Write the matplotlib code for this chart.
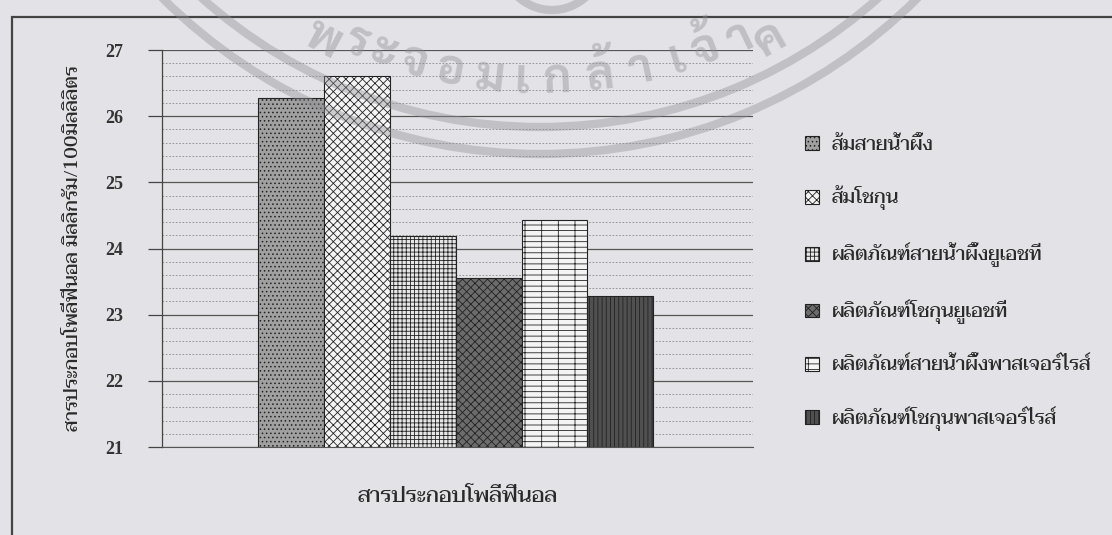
import matplotlib
matplotlib.use("Agg")
import matplotlib.pyplot as plt
from matplotlib.patches import Rectangle, Arc
from matplotlib.ticker import MultipleLocator
import numpy as np

plt.rcParams['hatch.linewidth'] = 0.6

# ---- data ----
series_labels = [
    "ส้มสายน้ำผึ้ง",
    "ส้มโชกุน",
    "ผลิตภัณฑ์สายน้ำผึ้งยูเอชที",
    "ผลิตภัณฑ์โชกุนยูเอชที",
    "ผลิตภัณฑ์สายน้ำผึ้งพาสเจอร์ไรส์",
    "ผลิตภัณฑ์โชกุนพาสเจอร์ไรส์",
]
values = [26.27, 26.61, 24.19, 23.56, 24.43, 23.28]
category = "สารประกอบโพลีฟีนอล"
y_label = "สารประกอบโพลีฟีนอล มิลลิกรัม/100มิลลิลิตร"
y_ticks = [21, 22, 23, 24, 25, 26, 27]

# watermark (scan artefact) text clusters
wm_clusters = ["พ", "ร", "ะ", "จ", "อ", "ม", "เ", "ก", "ล้", "า", "เ", "จ้", "า", "ค"]

# ---- styles ----
facecolors = ["#a0a0a0", "#f4f4f4", "#e6e6e6", "#6c6c6c", "#f4f4f4", "#505050"]
hatches = ["....", "xxxx", "++++", "xxxx", "---|", "||||"]

THAI = ["Taviraj", "DejaVu Sans"]
SERIF = ["Liberation Serif", "DejaVu Serif"]
bg = "#e3e3e7"
txt = "#2a2a2a"

W, H = 1112, 535
fig = plt.figure(figsize=(W / 100, H / 100), dpi=100, facecolor=bg)

# outer frame
fig.patches.append(Rectangle((12 / W, -0.05), 1.2, 1 - 17 / H + 0.05,
                             transform=fig.transFigure, fill=False,
                             edgecolor="#444444", linewidth=1.6))

left, right, top, bottom = 162, 753, 50, 447
ax = fig.add_axes([left / W, 1 - bottom / H, (right - left) / W, (bottom - top) / H])
ax.set_facecolor(bg)

n = len(values)
bw = 0.1114
xs = (np.arange(n) - (n - 1) / 2) * bw - 0.003
bars = ax.bar(xs, [v - y_ticks[0] for v in values], width=bw, bottom=y_ticks[0],
              color=facecolors, edgecolor="#222222", linewidth=0.8, zorder=3)
for b, h, lab in zip(bars, hatches, series_labels):
    b.set_hatch(h)
    b.set_label(lab)

ax.set_xlim(-0.5, 0.5)
ax.set_ylim(y_ticks[0], y_ticks[-1])
ax.yaxis.set_major_locator(MultipleLocator(1))
ax.yaxis.set_minor_locator(MultipleLocator(0.2))
ax.grid(which="major", axis="y", color="#555555", linewidth=0.9, zorder=0)
ax.grid(which="minor", axis="y", color="#8a8a8a", linewidth=0.6,
        linestyle=(0, (2, 2)), zorder=0)
ax.set_axisbelow(True)
ax.set_xticks([])
ax.tick_params(axis="y", which="major", length=10, width=0.9, color="#444444", pad=18)
ax.tick_params(axis="y", which="minor", length=0)
for lab in ax.get_yticklabels():
    lab.set_family(SERIF)
    lab.set_fontweight("bold")
    lab.set_fontsize(13)
    lab.set_color("#333333")
for s in ["top", "right"]:
    ax.spines[s].set_visible(False)
ax.spines["left"].set_color("#444444")
ax.spines["bottom"].set_color("#555555")
ax.spines["left"].set_linewidth(0.9)

ax.set_ylabel(y_label, family=THAI, fontsize=14, color=txt, labelpad=17,
              fontweight="medium")
ax.set_xlabel(category, family=THAI, fontsize=15.5, color=txt, labelpad=29,
              fontweight="medium")

leg = fig.legend(handles=list(bars), labels=series_labels, loc="upper left",
                 bbox_to_anchor=(787 / W, 1 - 118 / H), frameon=False,
                 prop={"family": THAI, "size": 14, "weight": "medium"},
                 handlelength=0.72, handleheight=0.72, handletextpad=0.7,
                 labelspacing=1.65, labelcolor=txt, borderpad=0.4)

# ---- watermark overlay (faint stamp from the scanned page) ----
ov = fig.add_axes([0, 0, 1, 1], zorder=10)
ov.set_xlim(0, W)
ov.set_ylim(H, 0)
ov.axis("off")
ov.patch.set_alpha(0)
cx, cy = 540, -381
wm_col = "#8e8e94"
for r in (508, 535):
    ov.add_patch(Arc((cx, cy), 2 * r, 2 * r, theta1=0, theta2=360,
                     color=wm_col, lw=6, alpha=0.4))
ov.add_patch(Arc((552, -40), 100, 100, color=wm_col, lw=6, alpha=0.4))
wm_x = [323, 357, 383, 413, 450, 490, 522, 557, 600, 640, 677, 705, 740, 770]
R = 462
for ch, x in zip(wm_clusters, wm_x):
    dx = x - cx
    dy = np.sqrt(R ** 2 - dx ** 2)
    y = max(cy + dy, 40)
    rot = np.degrees(np.arctan2(-(cx - x), dy))
    ov.text(x, y, ch, family=["Sarabun", "DejaVu Sans"], fontsize=34,
            fontweight="bold", color=wm_col, alpha=0.42, rotation=rot,
            rotation_mode="anchor", ha="center", va="center")

fig.savefig("out.png", dpi=100, facecolor=bg)
